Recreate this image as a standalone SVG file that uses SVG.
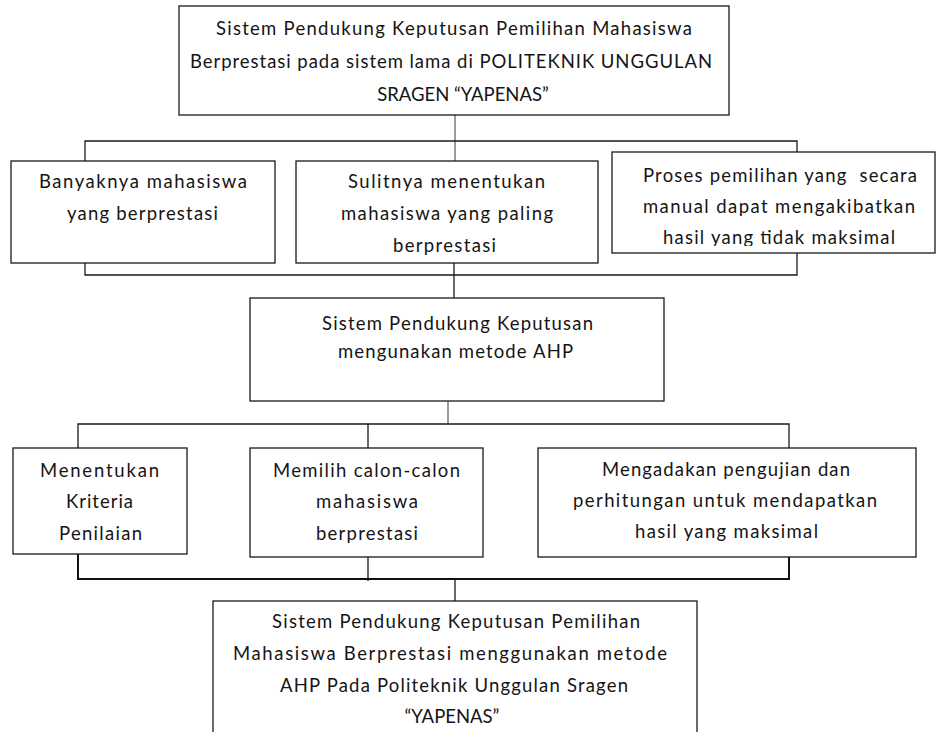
<svg xmlns="http://www.w3.org/2000/svg" width="936" height="732" viewBox="0 0 936 732">
  <style>
    .box { fill: #ffffff; stroke: #1a1a1a; stroke-width: 1.3; }
    .ln { fill: none; stroke: #1a1a1a; stroke-width: 1.3; }
    .ln-g { fill: none; stroke: #7a7a7a; stroke-width: 1.5; }
    .ln-b { fill: none; stroke: #111111; stroke-width: 2; }
    .t { font-family: Lato, "Liberation Sans", Arial, sans-serif; font-size: 18.5px; fill: #151515; }
    .c { text-anchor: middle; }
  </style>
  <defs>
    <clipPath id="clip2"><rect x="296" y="161" width="302" height="94"/></clipPath>
    <clipPath id="clip3"><rect x="612" y="152" width="324" height="94"/></clipPath>
  </defs>
  <rect width="936" height="732" fill="#ffffff"/>

  <g id="connectors">
    <line class="ln-g" x1="455" y1="115" x2="455" y2="161"/>
    <polyline class="ln" points="85,161 85,141 797,141 797,152"/>
    <polyline class="ln" points="85,263 85,275 797,275 797,253"/>
    <line class="ln" x1="454" y1="252" x2="454" y2="298"/>
    <line class="ln-g" x1="448" y1="401" x2="448" y2="424"/>
    <polyline class="ln" points="78,448 78,424 789,424 789,448"/>
    <line class="ln" x1="368" y1="424" x2="368" y2="448"/>
    <polyline class="ln-b" points="78,554 78,579 789,579 789,557"/>
    <line class="ln" x1="368" y1="557" x2="368" y2="581"/>
    <line class="ln" x1="455" y1="579" x2="455" y2="601"/>
  </g>

  <g id="node-top">
    <rect class="box" x="179" y="6" width="550" height="109"/>
    <text class="t" x="216" y="35" textLength="476">Sistem Pendukung Keputusan Pemilihan Mahasiswa</text>
    <text class="t" x="190" y="68" textLength="522">Berprestasi pada sistem lama di POLITEKNIK UNGGULAN</text>
    <text class="t c" x="463" y="101">SRAGEN “YAPENAS”</text>
  </g>

  <g id="node-banyak">
    <rect class="box" x="11" y="161" width="264" height="102"/>
    <text class="t" x="39" y="188" textLength="208">Banyaknya mahasiswa</text>
    <text class="t" x="67" y="220" textLength="151">yang berprestasi</text>
  </g>

  <g id="node-sulit">
    <rect class="box" x="296" y="161" width="302" height="102"/>
    <g clip-path="url(#clip2)">
      <text class="t" x="348" y="188" textLength="197">Sulitnya menentukan</text>
      <text class="t" x="341" y="220" textLength="212">mahasiswa yang paling</text>
      <text class="t" x="393" y="252" textLength="103">berprestasi</text>
    </g>
  </g>

  <g id="node-proses">
    <rect class="box" x="612" y="152" width="323" height="101"/>
    <g clip-path="url(#clip3)">
      <text class="t" x="643" y="182" textLength="274" xml:space="preserve">Proses pemilihan yang  secara</text>
      <text class="t" x="643" y="213" textLength="272">manual dapat mengakibatkan</text>
      <text class="t" x="663" y="244" textLength="232">hasil yang tidak maksimal</text>
    </g>
  </g>

  <g id="node-ahp">
    <rect class="box" x="250" y="298" width="414" height="103"/>
    <text class="t" x="322" y="330" textLength="271">Sistem Pendukung Keputusan</text>
    <text class="t" x="338" y="358" textLength="235">mengunakan metode AHP</text>
  </g>

  <g id="node-kriteria">
    <rect class="box" x="13" y="448" width="174" height="106"/>
    <text class="t" x="40" y="477" textLength="119">Menentukan</text>
    <text class="t" x="66" y="508" textLength="67">Kriteria</text>
    <text class="t" x="59" y="540" textLength="83">Penilaian</text>
  </g>

  <g id="node-memilih">
    <rect class="box" x="250" y="448" width="233" height="109"/>
    <text class="t" x="273" y="477" textLength="187">Memilih calon-calon</text>
    <text class="t" x="316" y="508" textLength="102">mahasiswa</text>
    <text class="t" x="316" y="540" textLength="102">berprestasi</text>
  </g>

  <g id="node-pengujian">
    <rect class="box" x="538" y="448" width="378" height="109"/>
    <text class="t" x="602" y="476" textLength="248">Mengadakan pengujian dan</text>
    <text class="t" x="573" y="507" textLength="304">perhitungan untuk mendapatkan</text>
    <text class="t" x="635" y="538" textLength="183">hasil yang maksimal</text>
  </g>

  <g id="node-hasil">
    <rect class="box" x="213" y="601" width="484" height="140"/>
    <text class="t" x="272" y="628" textLength="368">Sistem Pendukung Keputusan Pemilihan</text>
    <text class="t" x="233" y="660" textLength="434">Mahasiswa Berprestasi menggunakan metode</text>
    <text class="t" x="280" y="692" textLength="348">AHP Pada Politeknik Unggulan Sragen</text>
    <text class="t c" x="452" y="723">“YAPENAS”</text>
  </g>
</svg>
